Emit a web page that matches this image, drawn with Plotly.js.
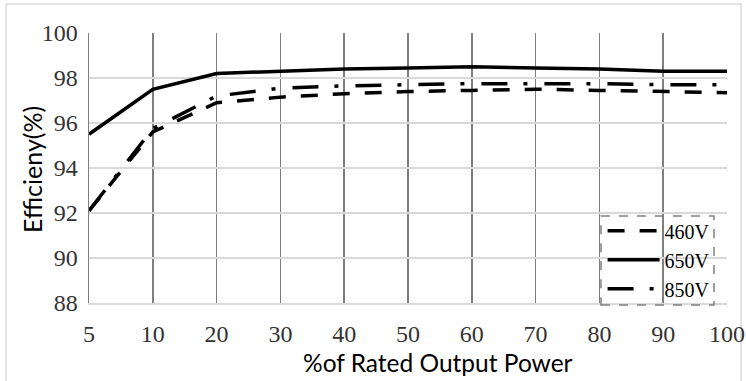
<!DOCTYPE html>
<html>
<head>
<meta charset="utf-8">
<script src="https://cdn.plot.ly/plotly-3.0.1.min.js"></script>
<style>html,body{margin:0;padding:0;background:#fff;}#chart{width:746px;height:381px;}</style>
</head>
<body>
<div id="chart"></div>
<script>
const categories = ['5','10','20','30','40','50','60','70','80','90','100'];
const eff460 = [92.1, 95.6, 96.9, 97.15, 97.3, 97.4, 97.45, 97.5, 97.45, 97.4, 97.35];
const eff650 = [95.5, 97.5, 98.2, 98.3, 98.4, 98.45, 98.5, 98.45, 98.4, 98.3, 98.3];
const eff850 = [92.1, 95.75, 97.2, 97.55, 97.65, 97.7, 97.75, 97.75, 97.75, 97.7, 97.7];
const seriesNames = ['460V', '650V', '850V'];
const yTicks = [88, 90, 92, 94, 96, 98, 100];

const traces = [
  {x: categories, y: eff460, name: seriesNames[0], mode: 'lines', line: {color: '#000', width: 3.5, dash: '17px,15px'}},
  {x: categories, y: eff650, name: seriesNames[1], mode: 'lines', line: {color: '#000', width: 3.5}},
  {x: categories, y: eff850, name: seriesNames[2], mode: 'lines', line: {color: '#000', width: 3.5, dash: '26px,16px,4px,17px'}}
];

const serif = 'Liberation Serif, DejaVu Serif, serif';
const sans = 'Lato, Open Sans, Liberation Sans, sans-serif';

const layout = {
  width: 746, height: 381,
  margin: {l: 89, r: 19, t: 33, b: 78},
  paper_bgcolor: '#fff', plot_bgcolor: '#fff',
  showlegend: true,
  xaxis: {
    type: 'category', categoryorder: 'array', categoryarray: categories,
    range: [0, 10],
    showgrid: true, gridcolor: '#7f7f7f', gridwidth: 1.5,
    showline: true, linecolor: '#d9d9d9', linewidth: 2,
    ticks: '', ticklabelstandoff: 8,
    tickfont: {family: serif, size: 24, color: '#333'},
    zeroline: false
  },
  yaxis: {
    range: [88, 100], tickvals: yTicks,
    showgrid: true, gridcolor: '#d9d9d9', gridwidth: 2,
    showline: true, linecolor: '#7f7f7f', linewidth: 1.5,
    ticks: '', ticklabelstandoff: 5,
    tickfont: {family: serif, size: 24, color: '#333'},
    zeroline: false
  },
  legend: {
    x: 0.805, xanchor: 'left', y: 0.34, yanchor: 'top',
    bgcolor: 'rgba(0,0,0,0)', borderwidth: 0,
    font: {family: serif, size: 20, color: '#000'},
    itemwidth: 52, tracegroupgap: 0
  },
  annotations: [
    {text: '%of Rated Output Power', xref: 'paper', yref: 'paper', x: 0.547, y: -0.222,
     xanchor: 'center', yanchor: 'middle', showarrow: false,
     font: {family: sans, size: 24.5, color: '#000'}},
    {text: 'Efficieny(%)', xref: 'paper', yref: 'paper', x: -0.0895, y: 0.496, textangle: -90,
     xanchor: 'center', yanchor: 'middle', showarrow: false,
     font: {family: sans, size: 25, color: '#000'}}
  ],
  shapes: [
    {type: 'rect', xref: 'paper', yref: 'paper', x0: 0.8025, x1: 0.9796, y0: -0.0074, y1: 0.322,
     line: {color: '#808080', width: 1.5, dash: 'dash'}, layer: 'above'},
    {type: 'rect', xref: 'paper', yref: 'paper', x0: -0.130, x1: 1.022, y0: -0.32, y1: 1.107,
     line: {color: '#d9d9d9', width: 1.5}, layer: 'below'}
  ]
};

Plotly.newPlot('chart', traces, layout, {displayModeBar: false, staticPlot: true});
</script>
</body>
</html>
